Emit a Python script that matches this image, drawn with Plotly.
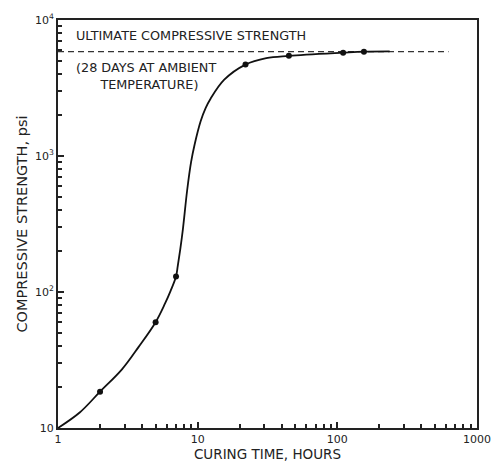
import math
import plotly.graph_objects as go

# Measured data points
hours = [2, 5, 7, 22, 45, 110, 155]
strength = [18.5, 60, 130, 4700, 5450, 5750, 5850]

curve_hours = [1, 1.43, 2, 2.87, 3.78, 5, 5.83, 6.4, 7, 7.2, 7.5, 7.84, 8.41, 8.97, 9.52, 10.5, 11.4, 12.4, 15.5, 22, 31, 45, 110, 155, 237]
curve_strength = [10, 13, 18.5, 27, 39.5, 60, 82, 102, 130, 155, 205, 290, 560, 900, 1220, 1800, 2250, 2650, 3640, 4700, 5240, 5450, 5750, 5850, 5880]

# Ultimate strength line
ultimate_hours = [1, 625]
ultimate_strength = [5850, 5850]

x_tickvals = [1, 10, 100, 1000]
x_ticktext = ["1", "10", "100", "1000"]
y_tickvals = [10, 100, 1000, 10000]
y_ticktext = ["10", "10<sup>2</sup>", "10<sup>3</sup>", "10<sup>4</sup>"]

FONT = "DejaVu Sans, sans-serif"

fig = go.Figure()
fig.add_trace(go.Scatter(x=ultimate_hours, y=ultimate_strength, mode="lines",
                         line=dict(color="#333", width=1.4, dash="6px,4px"), showlegend=False))
fig.add_trace(go.Scatter(x=curve_hours, y=curve_strength, mode="lines",
                         line=dict(color="#111", width=1.8, shape="spline", smoothing=1.0),
                         showlegend=False))
fig.add_trace(go.Scatter(x=hours, y=strength, mode="markers",
                         marker=dict(color="#111", size=6), showlegend=False))

fig.add_annotation(x=math.log10(1.3), y=math.log10(6500), xref="x", yref="y",
                   text="ULTIMATE COMPRESSIVE STRENGTH",
                   showarrow=False, xanchor="left", yanchor="bottom",
                   font=dict(family=FONT, size=12.8, color="#222"))
fig.add_annotation(x=math.log10(1.3), y=math.log10(5300), xref="x", yref="y",
                   text="(28 DAYS AT AMBIENT<br>      TEMPERATURE)",
                   showarrow=False, xanchor="left", yanchor="top", align="left",
                   font=dict(family=FONT, size=12.8, color="#222"))

fig.update_xaxes(type="log", range=[0, 3], tickvals=x_tickvals, ticktext=x_ticktext,
                 ticks="inside", ticklen=6, tickwidth=1.5, tickcolor="#222",
                 minor=dict(ticks="inside", ticklen=4, tickcolor="#222", dtick="D1", showgrid=False),
                 showline=True, linecolor="#222", linewidth=2, mirror=True, showgrid=False,
                 zeroline=False,
                 title=dict(text="CURING TIME, HOURS", font=dict(family=FONT, size=13.5, color="#222"),
                            standoff=2),
                 tickfont=dict(family=FONT, size=11, color="#222"))
fig.update_yaxes(type="log", range=[1, 4], tickvals=y_tickvals, ticktext=y_ticktext,
                 ticks="inside", ticklen=6, tickwidth=1.5, tickcolor="#222",
                 minor=dict(ticks="inside", ticklen=4, tickcolor="#222", dtick="D1", showgrid=False),
                 showline=True, linecolor="#222", linewidth=2, mirror=True, showgrid=False,
                 zeroline=False,
                 title=dict(text="COMPRESSIVE STRENGTH, psi", font=dict(family=FONT, size=14.5, color="#222"),
                            standoff=4),
                 tickfont=dict(family=FONT, size=11, color="#222"))

fig.update_layout(width=503, height=470, margin=dict(l=58, r=18, t=16, b=37),
                  paper_bgcolor="white", plot_bgcolor="white")

fig.write_html("out.html")
